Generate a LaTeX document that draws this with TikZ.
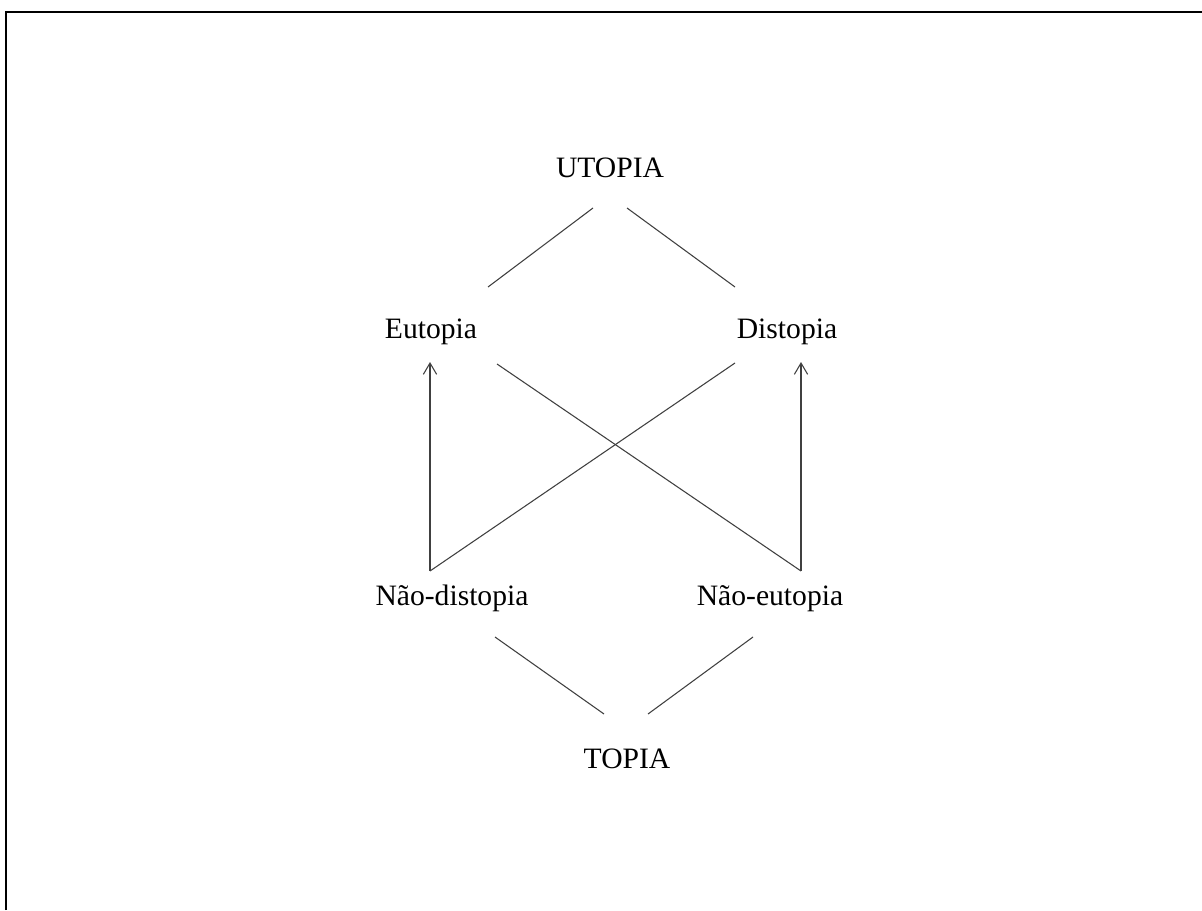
\documentclass[tikz,border=0pt]{standalone}
\usepackage{fontspec}
\setmainfont{Liberation Serif}
\usetikzlibrary{arrows.meta}
\begin{document}
\begin{tikzpicture}[x=0.75pt,y=-0.75pt,
  lbl/.style={anchor=base,inner sep=0pt,font=\fontsize{22.2}{26}\selectfont},
  conn/.style={line width=0.8pt,draw=black!75},
  arr/.style={conn,-{Straight Barb[length=8.5pt,width=10pt,line width=0.8pt]}}]
\useasboundingbox (0,0) rectangle (1202,910);
\fill[white] (0,0) rectangle (1202,910);
\draw[line width=1.5pt] (6,910) -- (6,12) -- (1202,12);
% nodes
\node[lbl] (u) at (610,177) {UTOPIA};
\node[lbl] (e) at (431,338) {Eutopia};
\node[lbl] (d) at (787,338) {Distopia};
\node[lbl] (nd) at (452,605) {Não-distopia};
\node[lbl] (ne) at (770,605) {Não-eutopia};
\node[lbl] (t) at (627,768) {TOPIA};
% connector ends
\coordinate (u1) at (593,208);
\coordinate (u2) at (627,208);
\coordinate (e1) at (488,287);
\coordinate (d1) at (735,287);
\coordinate (e2) at (497,364);
\coordinate (d2) at (735,363);
\coordinate (e3) at (430,362);
\coordinate (d3) at (801,362);
\coordinate (nd1) at (430,571);
\coordinate (ne1) at (801,571);
\coordinate (nd2) at (495,637);
\coordinate (ne2) at (753,637);
\coordinate (t1) at (604,714);
\coordinate (t2) at (648,714);
% connectors
\draw[conn] (u1) -- (e1);
\draw[conn] (u2) -- (d1);
\draw[conn] (e2) -- (ne1);
\draw[conn] (d2) -- (nd1);
\draw[arr] (nd1) -- (e3);
\draw[arr] (ne1) -- (d3);
\draw[conn] (nd2) -- (t1);
\draw[conn] (ne2) -- (t2);
\end{tikzpicture}
\end{document}
